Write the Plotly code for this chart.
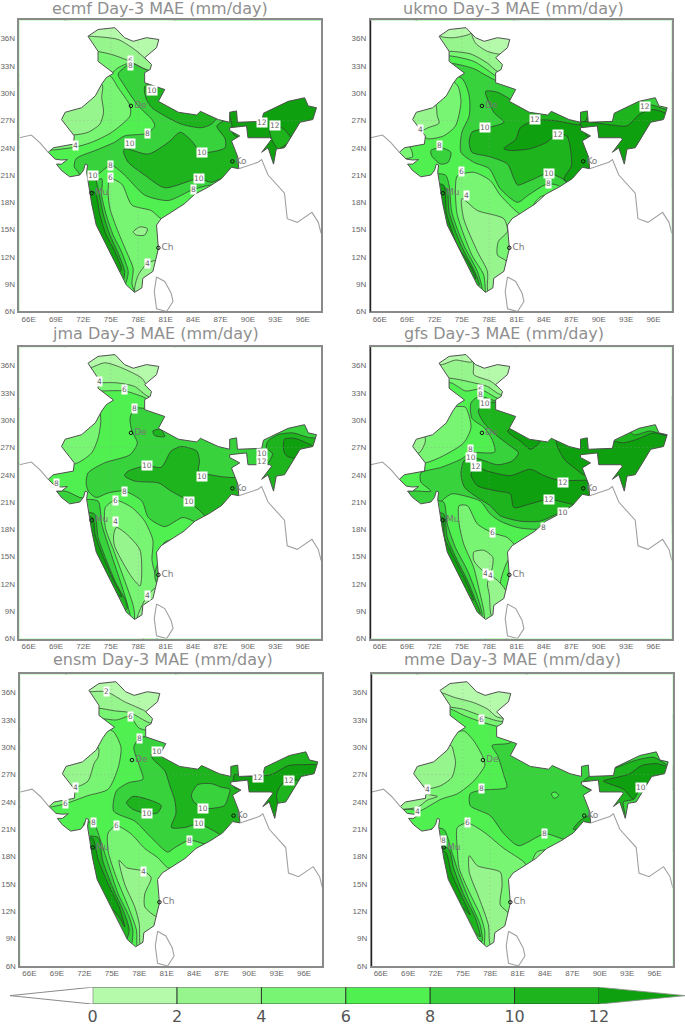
import plotly.graph_objects as go

# class 0: below 0, 1: 0-2, 2: 2-4, 3: 4-6, 4: 6-8, 5: 8-10, 6: 10-12, 7: above 12
CLASS_COLORS = ["#ffffff", "#b4faaa", "#96f58c", "#78f573", "#50f050", "#37d23c", "#1eb41e", "#0fa00f"]
LEVELS = [0, 2, 4, 6, 8, 10, 12]
MODELS = ["ecmf", "ukmo", "jma", "gfs", "ensm", "mme"]

INDIA = [(72.5,36.25),(73.6,37),(75.45,37.2),(76.5,36.1),(77.45,35.7),(78.9,36.1),(80.25,35.9),(80,35),(78.7,33.9),(79.45,33.15),(79.3,32.6),(78.7,32.25),(78.7,31.15),(80.9,30.4),(80.2,29.1),(81.3,28.5),(82.4,27.9),(84.4,27.6),(84.8,28),(86.75,27.1),(88,26.8),(88,27.9),(88.75,28.05),(88.85,26.8),(91.5,26.9),(91.7,27.8),(94.4,29.1),(96.2,29.5),(96.6,28.6),(97.5,28.4),(97.1,27.1),(95.7,26.8),(94.6,24.95),(94,24),(93.1,23.85),(92.8,22.2),(92.2,24),(91.5,23.5),(92.6,24.95),(92.4,25.1),(90,25.1),(89.85,26.4),(88,26.2),(88,25.9),(89.1,25.3),(88.2,24.75),(88.9,22.95),(89,21.7),(88.2,21.85),(87.1,20.6),(85.7,19.7),(84.2,18.9),(83,17.8),(81.6,16.9),(80.5,16.2),(80,15.5),(80.2,12.9),(79.6,10.4),(78.5,9.65),(78.4,8.6),(77.6,8.1),(76.7,8.9),(76.35,9.65),(75.4,11.5),(74.5,13.3),(73.4,15.5),(72.9,17.85),(72.7,19.1),(72.5,20.6),(72.35,21.3),(72.45,22.1),(72.2,22.2),(72,21.5),(71.6,21),(70.5,20.8),(69.6,21.5),(69.05,22.2),(69.6,22.2),(70.25,22.7),(69.6,22.65),(68.9,22.75),(68.15,23.5),(68.7,24),(70.9,24.4),(71,25.3),(69.6,27.1),(70,27.9),(71.8,28.4),(73.3,29.7),(74,31),(74.5,31.7),(75.3,32.2),(73.6,33.5),(73.6,34.6),(72.5,36.25)]
PAKISTAN_COAST = [(65,25.1),(66.3,25.4),(67.2,24.6),(68.15,23.5)]
BURMA_COAST = [(89,21.7),(91.1,22.4),(91.5,22.7),(92.2,21),(94,19),(94.3,16.2),(95.4,15.8),(97,16.9),(97.7,15.8),(98,14.6)]
SRI_LANKA = [(80,9.8),(80.9,9.3),(81.6,8),(81.8,7.1),(81.1,6),(80,6.3),(79.75,8.2),(80,9.8)]

CITIES = [("De",77.2,28.6),("Ch",80.2,13.0),("Mu",72.9,19.0),("Ko",88.3,22.5)]

ECMF_BASE = 4
ECMF_BANDS = [
 (5,[(77.1,33.2),(75.8,32.1),(76.5,30.8),(78,28.6),(79.5,27.1),(79.8,26.4),(79,25.6),(76.5,25.3),(75.4,24.6),(73.3,23.7),(71.2,22.8),(71,21.9),(71.5,21.2),(71.8,19.8),(72.7,20.9),(73.6,21.1),(75,22.1),(76.5,21),(78.7,18.8),(81.3,18.2),(84,19.4),(86.4,19.9),(88.6,18.4),(99,18),(99,38),(81.3,38),(81.3,33),(79.3,33)]),
 (6,[(78.7,30.7),(78.9,29.3),(79.5,28.4),(80.9,27.5),(82.7,26.6),(84.9,26.2),(86,26.6),(86.7,27.5),(82.7,29),(80.5,31.5)]),
 (6,[(76.5,23.9),(79.1,23.3),(81.3,24.6),(82.6,25.7),(83.8,24.8),(84.9,23.5),(87.5,24),(87.5,25),(86.6,26.4),(88.6,27.3),(90.8,25),(89.7,21),(87.1,20.6),(86,20.2),(84.6,20.6),(80.9,19.6),(78.7,21),(76.9,22.4),(76.4,23.5)]),
 (7,[(86.5,29),(99,30),(99,21),(91,21),(91,24.8),(89.8,24.8),(88.4,25.5),(88.2,26.8),(87.8,27.9)]),
 (6,[(92.4,26),(93.7,26.2),(94.7,24.95),(93.3,23.9),(92.6,24.95)]),
 (3,[(70.7,24),(72.9,24.6),(75.1,25.7),(77.1,27.5),(77.1,28.6),(75.8,30.6),(74.9,31.9),(73.3,31.9),(65,32),(65,24)]),
 (2,[(70.9,25.4),(72.5,25.7),(73.8,26.6),(74.2,27.9),(74,29.5),(74,31),(65,31),(65,25.4)]),
 (3,[(73.6,33.3),(75,32.2),(75.8,32.8),(77.1,33.3),(79.1,32.5),(81.3,31.9),(82,38),(70,38),(70,33.3)]),
 (2,[(73.4,34.6),(75.1,34.25),(77.1,33.5),(78.9,32.6),(81.3,32.4),(82,38),(70,38),(70,34.6)]),
 (1,[(72.9,36.25),(75.8,35.9),(77.6,34.8),(78.9,33.7),(79.5,33.2),(81.3,33.2),(82,38),(70,38),(70,36.3)]),
 (3,[(74.7,19.1),(74.9,20.6),(76.2,20),(77.3,17.7),(79.4,17.1),(80.5,16.2),(82.7,15.5),(82.7,11),(79.1,5.6),(77.6,8.2),(77.3,9.1),(77.45,10.7),(76.7,12.6),(75.8,14.75),(74.9,17.3)]),
 (2,[(77.45,14.75),(78.2,15.3),(79,15.1),(78.7,14.4),(77.8,14.4)]),
 (2,[(77.6,8.2),(78,10),(79,11.3),(79.8,11.6),(81,11.5),(82,9),(79,5.6)]),
 (5,[(74,20.6),(74,18.75),(74.5,16.6),(75.25,14.4),(76.15,12.6),(76.9,10.4),(76.7,9.3),(76,7.8),(72.2,14.8),(71.8,18.9)]),
 (6,[(73.1,21.1),(73.6,19.5),(74.2,16.6),(74.9,14.4),(75.8,12.4),(76.5,10.4),(76.35,9.5),(72.2,14.8),(71.8,18.8)]),
 (7,[(73.25,19.1),(73.8,16.6),(74.5,14.4),(75.45,12.6),(76.15,10.7),(76,10.4),(72.2,11.1),(71.8,19.1)]),
]
ECMF_LABELS = [(77.1,33.6,"6"),(77.1,33,"8"),(79.5,30.3,"10"),(79,25.6,"8"),(77.1,24.5,"10"),(85,23.5,"10"),(84.6,20.6,"10"),(84,19.4,"8"),(75,22.1,"8"),(75,20.7,"6"),(73.1,21,"10"),(93,26.5,"12"),(91.5,26.8,"12"),(79,11.3,"4"),(71.1,24.2,"4")]

UKMO_BASE = 5
UKMO_BANDS = [
 (6,[(77.6,30.2),(78.5,27.9),(79.6,26.8),(77.8,26.2),(76.1,25.7),(75.8,24.6),(76.1,23.5),(78.1,23),(80,22.2),(80.7,20.6),(81.1,19.9),(82.5,20.4),(84.5,21.2),(86,20.6),(86.9,19.9),(90.9,19.9),(99,20),(99,32),(83.6,28.6),(81,29),(78.9,30.1)]),
 (7,[(79.6,23.9),(80.3,23.7),(82.5,23.9),(84.3,24.6),(85.4,25.5),(86.5,25.3),(86.9,23.9),(87,22),(86.2,20.6),(87.2,19.9),(89.4,21.3),(89.4,29.3),(88.3,26.6),(85.1,27),(83,27),(81.4,26.2),(80.9,24.9)]),
 (7,[(88,26.8),(91.4,26.5),(93.1,26.4),(94.5,27.7),(96,28.2),(97.6,27.7),(99,27),(99,23.5),(94.5,23.5),(93.5,23),(92.8,22),(92.2,23.5),(91.4,24.2),(89.4,24.5)]),
 (5,[(94.9,29),(96.2,28.6),(97.8,28.2),(99,30),(94,31)]),
 (4,[(74.9,31.7),(75.8,29.7),(75.8,27.5),(75,25.7),(74.9,23.5),(76.3,22.4),(78,21.7),(79.2,19.5),(81.1,18),(82.3,18.8),(84.3,20),(85.4,19.9),(87.3,18.4),(83.6,12.9),(76.3,5.6),(70.8,7.5),(65,20),(65,31.7)]),
 (3,[(74.6,30.7),(74.9,29),(74.3,26.4),(73,25.3),(71.2,25),(70.5,25.7),(65,26),(65,31),(74,31.3)]),
 (2,[(72.3,27.5),(72.5,26.7),(71.3,26.2),(70.4,25.8),(65,26),(65,29),(72,29)]),
 (3,[(69.2,24.2),(69.6,23),(68.7,22.8),(65,22.8),(65,24.2)]),
 (5,[(71.6,23.7),(72.7,24),(73.8,23.5),(73.5,22.4),(72.7,22.2),(71.7,23.1)]),
 (4,[(73.8,33.3),(76.3,32.7),(77.4,32.1),(79.6,31),(81,31),(80,38),(70,38),(70,33.3)]),
 (3,[(73.7,34.1),(76.3,33.5),(78,32.4),(78.9,31.8),(80.7,31.8),(80.7,38),(70,38),(70,34.1)]),
 (2,[(73.8,34.6),(76,34.3),(77.8,33.3),(78.9,32.4),(80.7,32.4),(80.7,38),(70,38),(70,34.6)]),
 (1,[(72.6,36.3),(74.1,36.1),(76,36.6),(76,37.6),(72.4,37.6)]),
 (1,[(76.1,36.4),(76.5,35.5),(77.8,34.6),(79.6,34.3),(80.7,35.5),(80,37.4),(76.1,37.4)]),
 (3,[(74.3,19.1),(74.5,20.9),(76.3,21.3),(78.1,20.4),(79.2,18.8),(81.1,16.9),(82.3,16.2),(83.6,14.8),(78.1,5.6),(77.6,8),(77.4,10),(76.1,12.2),(74.5,16.6)]),
 (3,[(82.9,17.7),(83.6,18.6),(85.1,18.9),(85.1,16.9)]),
 (2,[(75,18.4),(76.7,17.1),(79.6,16.2),(80,14.8),(79,13.7),(78.9,12.2),(79.9,11.5),(80,9.3),(78.1,7.5),(77.8,8.6),(77.8,10.4),(76.7,12.6),(75.2,16.2)]),
 (5,[(73.2,21),(73.6,19.9),(73.9,16.9),(75.2,13.3),(76.7,10.4),(77.2,8.2),(76.3,7.8),(71.6,14.8),(71.6,21)]),
 (6,[(73.3,19.5),(73.6,16.9),(74.9,13.3),(76.4,10.4),(76.9,8.9),(76.1,8.9),(71.6,14.8),(71.6,19.5)]),
 (7,[(73,19.9),(73.3,16.9),(74.5,13.3),(75.9,11.1),(76.5,9.6),(75.8,9.6),(71.6,14.8),(71.6,19.9)]),
]
UKMO_LABELS = [(95.1,28.5,"12"),(83,27.1,"12"),(85.5,25.5,"12"),(77.5,26.2,"10"),(84.5,21.2,"10"),(84.5,20.1,"8"),(72.5,24.3,"8"),(75,21.4,"6"),(75.5,18.8,"4"),(70.5,26,"4")]

JMA_BASE = 4
JMA_BANDS = [
 (5,[(77.6,31.3),(77.1,30.2),(77.3,28.8),(77.9,27.5),(77.1,26.2),(74.3,25.3),(72.5,24.2),(72.3,23),(72.6,22.1),(73.4,21.5),(74.7,22),(76.5,22.2),(78.4,21.1),(79.1,19.3),(80.9,18.3),(82.9,19.3),(84.6,18.6),(85.7,17.9),(92.2,18.2),(99,18),(99,32),(81,32.5),(79.3,31.3)]),
 (5,[(70,22.2),(71.6,21.5),(72.1,21.4),(72.2,19.7),(68.2,19.7),(68.2,21.9)]),
 (6,[(79,25),(76.9,24.4),(76.5,23.9),(77.6,23.3),(80.2,23.1),(81.6,22.2),(83.5,21.1),(84.9,19.9),(85.7,19.1),(90.8,18.2),(90.8,24.4),(88.6,23.7),(86.4,23.9),(84.6,24.4),(84.7,25.5),(84.4,26.6),(82.7,27.1),(81.6,26.6),(80.5,24.8)]),
 (6,[(79.6,28.8),(80.4,29),(80.9,28.2),(79.8,28.3)]),
 (6,[(92.2,27.7),(93.3,28.4),(94.9,28.6),(96.6,28.1),(99.5,27.7),(99,21),(91.8,22.8),(91.5,24.8),(92.2,25.3),(92.7,26.3),(92,27)]),
 (7,[(93.9,26.7),(94,27.9),(95.1,28),(96.4,27.5),(97.1,27.1),(95.9,26.2),(95.1,25.8),(94.2,26.1)]),
 (3,[(71.1,25.2),(72.9,26.4),(73.6,28),(73.9,30),(73.6,31.3),(65,31.3),(65,25.2)]),
 (3,[(73.8,33.2),(76.5,33.2),(78.4,32.6),(79.3,32.2),(81.3,32.2),(82,38),(70,38),(70,33.2)]),
 (2,[(73.6,34.1),(75.6,34.1),(77.6,33.7),(79.1,32.6),(81.3,32.6),(82,38),(70,38),(70,34.1)]),
 (1,[(72.6,35.7),(74.3,36.3),(75.8,35.9),(78.4,34.6),(79.3,33.3),(81.3,33.5),(82,38),(70,38),(70,35.7)]),
 (3,[(74.4,18.2),(74.4,20.4),(75.5,21.2),(77.3,20.4),(78.7,18.9),(79.6,16.8),(79.5,14.6),(79.9,12.9),(80.2,11.7),(82.7,9.1),(79.1,5.5),(77.6,7.8),(77.6,8.7),(77.4,9.8),(76.5,12.4),(75.3,15.7)]),
 (2,[(75.3,17.3),(75.6,18.2),(76.7,17.5),(78.2,15.7),(78.2,11.8),(77.4,12.6),(76.4,14.2),(75.4,16.2)]),
 (2,[(77.8,7.8),(79,10.7),(80.2,11.7),(82.7,9.1),(79.1,5.5)]),
 (5,[(80.4,15.7),(80.9,16.6),(82.2,16.9),(82.7,16),(80.5,14.6)]),
 (5,[(80.2,14.2),(79.8,12.9),(80.2,11.8),(82,12.7)]),
 (5,[(73.6,21.1),(74,18.6),(74.9,15.7),(76,12.4),(76.8,9.8),(77.1,8.2),(76.2,8),(71.8,14.6),(71.8,21.1)]),
 (6,[(73.2,19.7),(73.6,17.1),(74.4,14.9),(75.6,12),(76.6,10.2),(76.8,9.3),(76.2,9.1),(71.8,14.6),(71.8,19.7)]),
 (7,[(73,19.3),(73.3,17.3),(74.2,14.9),(75.3,12.4),(76.2,10.6),(75.6,10.9),(71.8,14.6),(71.8,19.3)]),
]
JMA_LABELS = [(73.8,34.2,"4"),(76.5,33.4,"6"),(77.6,31.3,"8"),(79,25,"10"),(85,23.8,"10"),(76.5,22.2,"8"),(75.5,21.2,"6"),(75.5,18.9,"4"),(83.5,21.1,"10"),(91.5,26.3,"10"),(91.5,25.5,"12"),(79,10.7,"4"),(69,23,"8")]

GFS_BASE = 4
GFS_BANDS = [
 (5,[(76.9,32.6),(76,31.9),(76.1,30.2),(77.4,29.2),(78.3,27.9),(78.6,26.5),(76,26.4),(74.9,25.7),(72.7,24.8),(70.5,24.2),(70.5,23.2),(71.6,22.2),(69.4,22.2),(69,21.9),(68.8,19.7),(72.3,19.7),(72.7,21),(73.9,21.9),(75.2,21.7),(77,21.1),(78.1,19.7),(79.2,18.9),(81.1,18.2),(83.2,18),(84.5,18.2),(90.9,18.2),(99,18),(99,32),(82,32.5),(79.2,32)]),
 (6,[(77.5,31.9),(76.8,31),(77.4,29.7),(78.7,28.4),(80.1,27.3),(81.2,26.4),(80.5,25.5),(78.9,25.1),(77,25.7),(76.1,25.9),(75.2,25.5),(74.9,24),(75.3,22.6),(76.7,21.5),(78.1,20.6),(79.2,19.5),(81.4,18.9),(83.6,18.9),(85,19.5),(86,19.9),(90.9,19.3),(99,19),(99,32),(82,32),(80,31.5),(79,31.9)]),
 (7,[(76.5,24.9),(76,24),(76.7,22.8),(78.9,22.2),(80.3,21.9),(80.7,20.4),(82.5,20.8),(84.5,21.3),(86.9,20.8),(88.5,20.5),(89.6,21.5),(89.6,23.4),(88.7,23.4),(85.6,23.4),(84,23.9),(82.5,24.6),(80.3,23.9),(77.8,24.4)]),
 (7,[(80,28.8),(81.4,27.7),(82.5,26.8),(83.4,27.4),(83.6,28),(81.4,29.5)]),
 (7,[(85.6,26.8),(86.3,25.6),(87.4,24.7),(88.3,24),(89.6,23.7),(99,21),(99,27.6),(97.6,28.2),(96,28.6),(94.5,28),(92.7,27.5),(91.6,27.7),(89.4,27.7),(87.3,29.2),(85.3,28)]),
 (5,[(93.8,28.4),(95.6,28.8),(97.6,28.4),(99,30),(93,30)]),
 (3,[(71,25.3),(73,26.1),(75.2,27.5),(76,29.2),(75.4,31.4),(74.5,31.5),(65,31.5),(65,25.3)]),
 (2,[(71,27.7),(70.3,26.4),(65,26.4),(65,28),(70.8,28.5)]),
 (3,[(73.8,34.1),(75.4,33.2),(77,33.4),(78.9,32.4),(80,32.2),(81,38),(70,38),(70,34.1)]),
 (2,[(73.8,34.6),(76.3,34.1),(77.8,33.7),(79.2,32.8),(80.7,32.8),(81,38),(70,38),(70,34.6)]),
 (1,[(76.3,35.9),(76.3,35),(78.1,34.3),(79.2,33.6),(80.7,34.6),(80.7,37.1),(76.3,37.1)]),
 (1,[(72.6,36.1),(74.3,36.6),(76.1,36.4),(76.1,37.5),(72.4,37.5)]),
 (3,[(74.7,18.6),(74.7,20.6),(75.6,20.6),(76.7,18.6),(78.4,17.6),(80,17.1),(81.1,16),(82.1,15.7),(80.2,14.8),(79.2,12),(79.6,10.2),(82.1,7.3),(77.8,5.5),(77.5,8),(77.4,9.1),(77,10.9),(76.3,13.8),(75.2,16.4)]),
 (2,[(76.3,15.5),(77.4,15.7),(78.4,14.9),(78.1,13.1),(77.6,13.3),(77,13.7),(76.3,14.6)]),
 (2,[(77.8,12),(78,10.9),(78.3,8.4),(80,9.8),(79.8,11.3),(78.9,12.4),(78.1,12.9)]),
 (5,[(73,21),(73.4,18.6),(74.3,16),(75.6,13.5),(76.7,10.6),(77.2,8.4),(76.3,8),(71.6,14.6),(71.6,21)]),
 (6,[(73,19.7),(73.4,17.1),(74.5,14.6),(75.6,12.4),(76.5,10.2),(77,8.7),(76.3,8.7),(71.6,14.6),(71.6,19.7)]),
 (7,[(72.9,19.3),(73.1,17.1),(74.3,14.6),(75.4,12.4),(76.3,10.2),(75.8,10.6),(71.6,14.6),(71.6,19.3)]),
]
GFS_LABELS = [(77,33.4,"6"),(77,32.8,"8"),(77.5,31.8,"10"),(76,26.8,"8"),(76,25.9,"10"),(76.5,24.9,"12"),(86.1,23.1,"12"),(84.5,21.3,"12"),(86.1,19.9,"10"),(83.9,18.2,"8"),(78.4,17.6,"6"),(77.6,13.2,"4"),(78.1,12.9,"4")]

ENSM_BASE = 4
ENSM_BANDS = [
 (5,[(78,31),(77.4,30),(78,28),(78.4,26.5),(76.8,26.1),(75.5,25.2),(75.2,23),(77.5,21.9),(79.3,20.1),(81.1,18.5),(81.9,19),(83.5,19.8),(85.1,19.4),(86.6,19),(92.1,18.7),(99,18.7),(99,33),(82,33),(80,31.4)]),
 (6,[(79.3,29.2),(79.5,28.7),(80.8,27.4),(81.3,25.9),(81.9,24.1),(82,22.7),(81.5,21.2),(83,21.2),(84.5,21.6),(86.2,20.8),(87.1,20.3),(92.1,20.1),(99,20),(99,33),(83,33),(82,29.9),(80,29.4)]),
 (5,[(83.7,24.8),(84.4,25.9),(85.9,26),(87,25.6),(87.9,25.4),(87.7,24.5),(87.3,23.6),(85,23.3),(83.9,24.1)]),
 (6,[(76.6,23.9),(77.3,24.6),(78.9,24.3),(80.4,23.6),(80,22.8),(78.9,22.7),(77.3,23.2)]),
 (7,[(88.4,27),(89.7,26.8),(92.4,27),(94.3,28),(96.1,28.1),(97.4,28.1),(99,27.7),(99,26),(95.2,26.4),(94.4,26.4),(93.5,25.9),(93,24.8),(93.2,22.7),(92.1,21.9),(91,23.4),(90.1,25),(88.4,25.6)]),
 (3,[(68,23.4),(69.9,23.8),(72.4,24.7),(74.6,25.4),(75.7,27.8),(76,30),(75.1,31.8),(73.8,32),(65,32),(65,23.4)]),
 (2,[(71,25.6),(72.4,26.3),(73.1,28.3),(73.5,28.9),(73.5,30),(65,30),(65,25.6)]),
 (3,[(73.5,33.2),(75.5,33),(77,33.4),(78,32.1),(81.1,31.8),(82,38),(70,38),(70,33.2)]),
 (2,[(73.5,34.3),(75.3,34),(77,33.8),(79.1,32.7),(81.1,32.7),(82,38),(70,38),(70,34.3)]),
 (1,[(72.6,36.1),(74.4,36.1),(76.4,35),(78.6,34),(79.1,33.6),(81.1,33.6),(82,38),(70,38),(70,36.1)]),
 (3,[(74.6,18.6),(74.6,20.6),(75.5,21.4),(77.1,20.5),(78.6,18.9),(80,17.9),(81.1,16.8),(83.3,16.3),(83.3,11.4),(79.3,5.5),(77.8,8),(77.7,9.9),(76.8,12.5),(75.5,15.7)]),
 (2,[(75.8,17.6),(76.6,16.8),(78.5,16.4),(79.3,15.7),(78.6,13.9),(78.6,12.5),(79.9,11.4),(81.1,11.4),(79.3,5.5),(78.1,8.3),(78,10.6),(77.5,12.5),(76.4,15)]),
 (5,[(73,21.7),(73.8,19.7),(74.6,17.2),(75.7,13.9),(76.9,11.4),(77.3,9.9),(77.1,8.3),(76.4,8.4),(72.7,15),(72,21.7)]),
 (6,[(73.5,20.1),(74,17.6),(75.1,14.6),(76.4,11.7),(76.9,9.9),(76.5,8.8),(72.7,15),(72,20.1)]),
 (7,[(72.9,20),(73.5,17.7),(74.6,15),(75.8,12.5),(76.4,10.3),(75.8,11.4),(72.7,15),(72,20)]),
]
ENSM_LABELS = [(74.4,36.1,"2"),(77,33.4,"6"),(78,31,"8"),(79.9,29.5,"10"),(71,25.6,"4"),(69.9,23.8,"6"),(78.9,22.7,"10"),(85,23.3,"10"),(84.5,21.6,"10"),(83.5,19.8,"8"),(73,21.7,"8"),(75.5,21.4,"6"),(78.5,16.4,"4"),(91,26.7,"12"),(94.4,26.4,"12")]

MME_BASE = 4
MME_BANDS = [
 (5,[(78.2,30.2),(78.8,29.1),(79.5,26.9),(79.8,25.6),(77,25.3),(75.8,24.9),(75.8,23.6),(78,22.5),(79.5,20.5),(81.1,19.2),(84,20.5),(86.1,19.9),(90.8,19.2),(99,19),(99,33),(82,33),(80.2,30.5)]),
 (4,[(84.7,24.9),(85.1,25.1),(85.5,24.7),(85,24.4)]),
 (6,[(88,26),(89,26.9),(91.9,27.8),(93.7,28.5),(95.9,28.9),(97.5,28),(99,27.5),(99,25.5),(94.5,25.6),(93.7,25.1),(93.7,24.3),(92.6,24),(92.8,22.2),(91.5,23.2),(90.8,24.3),(89.3,25.1)]),
 (6,[(87.9,22),(89,22.5),(89,21.4),(87.1,21)]),
 (7,[(90.4,26.3),(91.9,26.7),(93.3,27.1),(94.6,28),(96.3,28.2),(97.5,27.8),(99,27),(99,25.5),(95.9,25.4),(94.6,25.6),(93.7,24.3),(92.6,25.4)]),
 (3,[(69.3,23.2),(70.2,23),(72.6,24.3),(74.4,24.9),(76.2,26.3),(77.4,28),(77.3,28.7),(76.2,30.7),(75.1,31.8),(74,31.6),(65,32),(65,23.2)]),
 (2,[(71,25.4),(72.6,25.8),(73.8,26.7),(74.2,28.3),(74,29.4),(73.7,30.2),(65,31),(65,25.4)]),
 (2,[(70,23.4),(71.1,24.2),(72.2,24.6),(65,25),(65,23.4)]),
 (3,[(73.6,34.2),(75.1,33.5),(77,32.8),(78.8,32.3),(80.2,32.3),(82,38),(70,38),(70,34.2)]),
 (2,[(73.6,34.4),(74.9,34.2),(76.9,33.5),(78.8,32.9),(80.2,32.9),(82,38),(70,38),(70,34.4)]),
 (1,[(72.6,36),(74,35.5),(76.2,34.9),(77.7,34.2),(78.8,33.3),(80.2,33.3),(82,38),(70,38),(70,36)]),
 (3,[(74.4,18.7),(74.4,21.2),(75.5,21.7),(77.3,20.7),(79.5,18.9),(81.7,17.4),(82.4,16.3),(83.5,13),(78.4,5.7),(77.4,8.1),(77.4,9.8),(76.9,11.6),(75.7,14.1),(74.6,16.7)]),
 (3,[(82.6,17.2),(83.1,18.5),(84.2,18.7),(85,17)]),
 (2,[(75.7,18.1),(76.6,17),(79.1,16.3),(79.3,14.9),(79.1,12.7),(80,11.8),(80.6,10.1),(78.8,7.6),(78,8.3),(77.8,10.5),(76.8,13.4),(75.7,16.3)]),
 (5,[(72.9,21),(73.8,18.5),(74.6,16),(75.8,13),(76.9,10.5),(77.1,8.7),(76.4,9),(71.5,14.9),(71.5,21)]),
 (6,[(73.4,18.9),(74,16.7),(75.1,13.8),(76.4,11.2),(76.9,9.2),(76.2,9.8),(71.5,14.9),(71.5,18.9)]),
 (7,[(73.1,18.5),(73.7,16.3),(74.8,13.8),(75.8,11.6),(75.1,12.3),(71.5,14.9),(71.5,18.5)]),
]
MME_LABELS = [(77,33.1,"6"),(77,25.5,"8"),(75.5,21.7,"6"),(84,20.5,"8"),(71.1,25.4,"4"),(70,23,"4"),(94.5,25.6,"10"),(72.9,19.8,"8")]

BASES = [ECMF_BASE, UKMO_BASE, JMA_BASE, GFS_BASE, ENSM_BASE, MME_BASE]
BANDS = [ECMF_BANDS, UKMO_BANDS, JMA_BANDS, GFS_BANDS, ENSM_BANDS, MME_BANDS]
LABELS = [ECMF_LABELS, UKMO_LABELS, JMA_LABELS, GFS_LABELS, ENSM_LABELS, MME_LABELS]

W, H = 685, 1027
FRAMES = [(17.5,320,20.5,313),(369.7,671.7,20.5,313),(17.5,320,349,641.7),(369.7,671.7,349,641.7),(18.3,321.3,677.7,970.7),(370.7,672.7,677.7,970.7)]
TITLE_POS = [(158.7,8.5),(513,8.5),(153.7,335),(503,335),(161,663),(512,663)]
LON0, LON1, LAT0, LAT1 = 65, 98, 6, 38
LINE = "#333333"

def signed_area(p):
    return sum(a[0]*b[1]-b[0]*a[1] for a, b in zip(p, p[1:]+p[:1]))/2

fig = go.Figure()
layout = {}
ann = []
shapes = []
for i, m in enumerate(MODELS):
    l, r, t, b = FRAMES[i]
    n = i+1
    xa, ya = f"x{n}", f"y{n}"
    layout[f"xaxis{n}"] = dict(domain=[l/W, r/W], range=[LON0, LON1], tickvals=list(range(66, 97, 3)),
        ticktext=[f"{v}E" for v in range(66, 97, 3)], ticks="", showgrid=False, zeroline=False, showline=True, mirror=True,
        linecolor="#8a8a8a", linewidth=1.5, tickfont=dict(family="Liberation Sans", size=8, color="#666666"), anchor=ya, ticklabelstandoff=-1)
    layout[f"yaxis{n}"] = dict(domain=[1-b/H, 1-t/H], range=[LAT0, LAT1], tickvals=list(range(6, 37, 3)),
        ticktext=[f"{v}N" for v in range(6, 37, 3)], ticks="", showgrid=False, zeroline=False, showline=True, mirror=True,
        linecolor="#8a8a8a", linewidth=1.5, tickfont=dict(family="Liberation Sans", size=8, color="#666666"), anchor=xa, ticklabelstandoff=1)
    fig.add_trace(go.Scatter(x=[LON0-3, LON1+3, LON1+3, LON0-3], y=[LAT0-3, LAT0-3, LAT1+3, LAT1+3], fill="toself", mode="none",
        fillcolor=CLASS_COLORS[BASES[i]], xaxis=xa, yaxis=ya, hoverinfo="skip"))
    for cls, pts in BANDS[i]:
        fig.add_trace(go.Scatter(x=[p[0] for p in pts]+[pts[0][0]], y=[p[1] for p in pts]+[pts[0][1]], fill="toself", mode="lines",
            fillcolor=CLASS_COLORS[cls], line=dict(color=LINE, width=0.7, shape="spline", smoothing=0.7), xaxis=xa, yaxis=ya, hoverinfo="skip"))
    # faint dotted grid, visible only inside the country
    for lon in (75, 78):
        fig.add_trace(go.Scatter(x=[lon, lon], y=[LAT0, LAT1], mode="lines", line=dict(color="#9a9a9a", width=0.5, dash="1px,3px"), xaxis=xa, yaxis=ya, hoverinfo="skip"))
    fig.add_trace(go.Scatter(x=[LON0, LON1], y=[27, 27], mode="lines", line=dict(color="#9a9a9a", width=0.5, dash="1px,3px"), xaxis=xa, yaxis=ya, hoverinfo="skip"))
    # white mask outside the country, as one keyholed polygon reaching past the frame
    hole = INDIA[:-1]
    if signed_area(hole) < 0:
        hole = hole[::-1]
    rect = [(LON0-5, LAT1+5), (LON1+5, LAT1+5), (LON1+5, LAT0-5), (LON0-5, LAT0-5)]
    ring = rect+[rect[0]]+hole+[hole[0]]+[rect[0]]
    fig.add_trace(go.Scatter(x=[p[0] for p in ring], y=[p[1] for p in ring], fill="toself", mode="none", fillcolor="#ffffff", xaxis=xa, yaxis=ya, hoverinfo="skip"))
    fig.add_trace(go.Scatter(x=[p[0] for p in INDIA], y=[p[1] for p in INDIA], mode="lines", line=dict(color="#505050", width=1), xaxis=xa, yaxis=ya, hoverinfo="skip"))
    for coast in (PAKISTAN_COAST, BURMA_COAST, SRI_LANKA):
        fig.add_trace(go.Scatter(x=[p[0] for p in coast], y=[p[1] for p in coast], mode="lines", line=dict(color="#a0a0a0", width=1.1), xaxis=xa, yaxis=ya, hoverinfo="skip"))
    fig.add_trace(go.Scatter(x=[c[1] for c in CITIES], y=[c[2] for c in CITIES], text=[c[0] for c in CITIES], mode="markers+text", textposition="middle right",
        marker=dict(size=3.5, color="rgba(0,0,0,0)", line=dict(color="#111111", width=1)), textfont=dict(family="DejaVu Sans", size=9, color="#777777"), xaxis=xa, yaxis=ya, hoverinfo="skip"))
    for lon, lat, txt in LABELS[i]:
        ann.append(dict(x=lon, y=lat, xref=xa, yref=ya, text=txt, showarrow=False, bgcolor="#ffffff", borderpad=0,
            font=dict(family="DejaVu Sans", size=7.5, color="#666666")))
    tx, ty = TITLE_POS[i]
    ann.append(dict(x=tx/W, y=1-ty/H, xref="paper", yref="paper", text=f"{m} Day-3 MAE (mm/day)", showarrow=False, xanchor="center", yanchor="middle",
        font=dict(family="DejaVu Sans", size=16, color="#8f8f8f")))
    if i % 2 == 1:
        shapes.append(dict(type="line", xref=f"{xa} domain", yref=f"{ya} domain", x0=0, x1=0, y0=0, y1=1, line=dict(color="#222222", width=1.2)))

# colour key
fig.add_trace(go.Bar(x=[v+1 for v in LEVELS[:-1]], y=[1]*6, width=[2]*6, marker=dict(color=CLASS_COLORS[1:7], line=dict(color="#222222", width=0.8)), xaxis="x7", yaxis="y7", hoverinfo="skip"))
fig.add_trace(go.Scatter(x=[0, -1.96, 0], y=[1, 0.5, 0], fill="toself", fillcolor=CLASS_COLORS[0], mode="lines", line=dict(color="#8a8a8a", width=1), xaxis="x7", yaxis="y7", hoverinfo="skip"))
fig.add_trace(go.Scatter(x=[12, 14.04, 12], y=[1, 0.5, 0], fill="toself", fillcolor=CLASS_COLORS[7], mode="lines", line=dict(color="#8a8a8a", width=0.8), xaxis="x7", yaxis="y7", hoverinfo="skip"))
layout["xaxis7"] = dict(domain=[0, 1], range=[-2.15, 14.04], tickvals=LEVELS, ticktext=[str(v) for v in LEVELS], ticks="", showgrid=False, zeroline=False, showline=False,
    tickfont=dict(family="DejaVu Sans", size=16, color="#555555"), anchor="y7", ticklabelstandoff=1)
layout["yaxis7"] = dict(domain=[1-1009/H, 1-992/H], range=[0, 1], visible=False, anchor="x7")

fig.update_layout(width=W, height=H, margin=dict(l=0, r=0, t=0, b=0), paper_bgcolor="#ffffff", plot_bgcolor="#ffffff", showlegend=False, annotations=ann, shapes=shapes, **layout)
fig.write_html("out.html", post_script="document.body.style.margin='0';", config={"displayModeBar": False})
